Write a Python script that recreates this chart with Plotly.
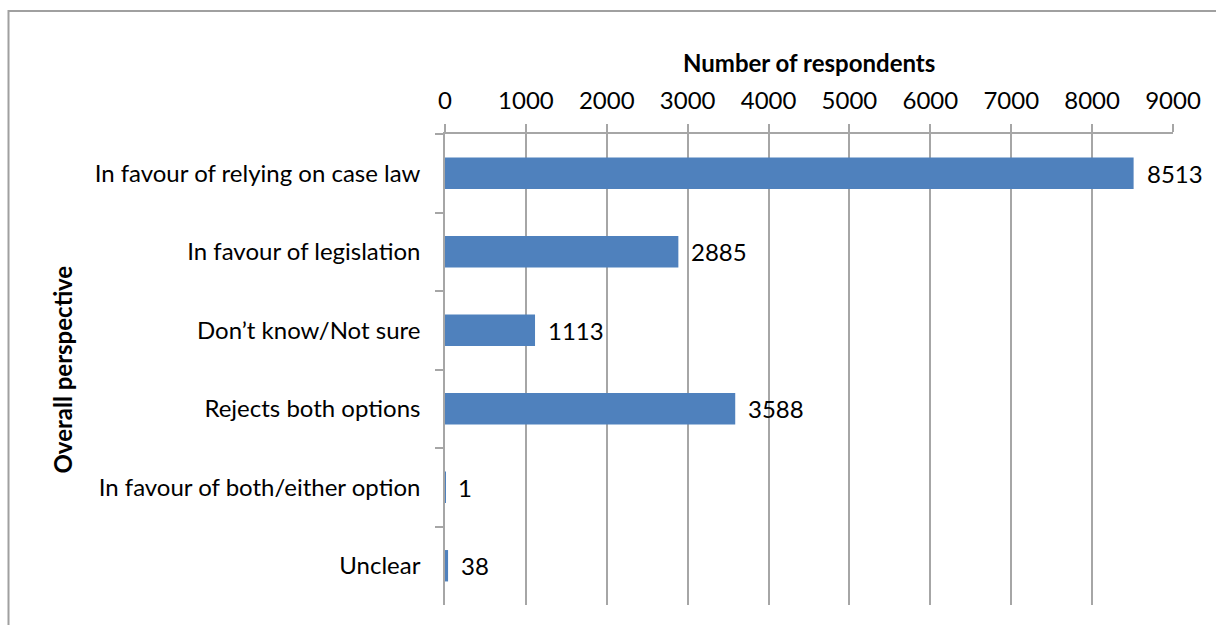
import plotly.graph_objects as go

# Survey responses by overall perspective
categories = [
    "In favour of relying on case law",
    "In favour of legislation",
    "Don’t know/Not sure",
    "Rejects both options",
    "In favour of both/either option",
    "Unclear",
]
respondents = [8513, 2885, 1113, 3588, 1, 38]
x_ticks = [0, 1000, 2000, 3000, 4000, 5000, 6000, 7000, 8000, 9000]

BAR = "#4F81BD"
GRID = "#A6A6A6"
FONT = "Lato"
FS = 24

W, H = 1216, 625
ML, MR, MT, MB = 445, 43, 134, 20
pw, ph = W - ML - MR, H - MT - MB

fig = go.Figure()
fig.add_trace(go.Bar(
    x=respondents,
    y=categories,
    orientation="h",
    marker=dict(color=BAR, line=dict(width=0)),
    width=0.4,
    hoverinfo="x+y",
))

# value labels just right of each bar end
for cat, val in zip(categories, respondents):
    fig.add_annotation(
        x=val, y=cat, text=str(val), showarrow=False,
        xanchor="left", yanchor="middle", xshift=11,
        font=dict(family=FONT, size=FS, color="#000000"),
    )

# axis titles
fig.add_annotation(
    x=0.5, y=(H - 62 - MB) / ph, xref="paper", yref="paper",
    text="<b>Number of respondents</b>", showarrow=False,
    xanchor="center", yanchor="middle",
    font=dict(family=FONT, size=FS, color="#000000"),
)
fig.add_annotation(
    x=(62 - ML) / pw, y=0.5, xref="paper", yref="paper",
    text="<b>Overall perspective</b>", showarrow=False, textangle=-90,
    xanchor="center", yanchor="middle",
    font=dict(family=FONT, size=FS, color="#000000"),
)

# outer chart border
fig.add_shape(
    type="rect", xref="paper", yref="paper",
    x0=(8.5 - ML) / pw, x1=(W + 6 - ML) / pw,
    y0=(-10 - MB) / ph, y1=(H - 11 - MB) / ph,
    line=dict(color="#A0A0A0", width=2), fillcolor="rgba(0,0,0,0)",
    layer="below",
)

fig.update_layout(
    width=W, height=H,
    margin=dict(l=ML, r=MR, t=MT, b=MB, pad=0),
    paper_bgcolor="white", plot_bgcolor="white",
    showlegend=False,
    font=dict(family=FONT, size=FS, color="#000000"),
    xaxis=dict(
        side="top", range=[0, 9000], tickvals=x_ticks,
        ticktext=[str(v) for v in x_ticks],
        showgrid=True, gridcolor=GRID, gridwidth=1.5,
        ticks="outside", ticklen=8, tickcolor=GRID, tickwidth=1.5,
        showline=True, linecolor=GRID, linewidth=1.5,
        zeroline=False, ticklabelstandoff=6,
        tickfont=dict(family=FONT, size=FS, color="#000000"),
    ),
    yaxis=dict(
        autorange="reversed", type="category",
        tickson="boundaries", ticks="outside", ticklen=8,
        tickcolor=GRID, tickwidth=1.5,
        showline=True, linecolor=GRID, linewidth=1.5,
        showgrid=False, zeroline=False, ticklabelstandoff=18,
        tickfont=dict(family=FONT, size=FS, color="#000000"),
    ),
)

fig.write_html("out.html")
